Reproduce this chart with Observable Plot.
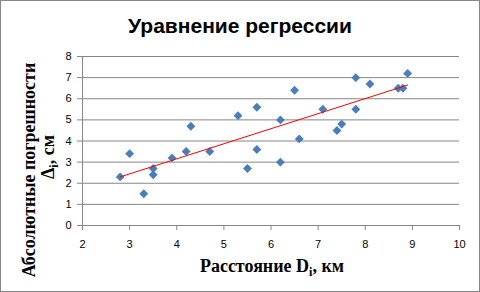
<!DOCTYPE html>
<html>
<head>
<meta charset="utf-8">
<script src="https://cdn.jsdelivr.net/npm/d3@7"></script>
<script src="https://cdn.jsdelivr.net/npm/@observablehq/plot@0.6"></script>
<style>
  html, body { margin: 0; padding: 0; background: #fff; }
  #chart { position: relative; width: 480px; height: 292px; overflow: hidden; }
  #chart svg { position: absolute; left: 0; top: 0; }
</style>
</head>
<body>
<div id="chart"></div>
<script>
// Data
const distanceKm = [2.8, 3.0, 3.3, 3.5, 3.5, 3.9, 4.2, 4.3, 4.7, 5.3, 5.5, 5.7, 5.7,
                    6.2, 6.2, 6.5, 6.6, 7.1, 7.4, 7.5, 7.8, 7.8, 8.1, 8.7, 8.8, 8.9];
const errorCm    = [2.3, 3.4, 1.5, 2.7, 2.4, 3.2, 3.5, 4.7, 3.5, 5.2, 2.7, 5.6, 3.6,
                    5.0, 3.0, 6.4, 4.1, 5.5, 4.5, 4.8, 7.0, 5.5, 6.7, 6.5, 6.5, 7.2];
const xTicks = [2, 3, 4, 5, 6, 7, 8, 9, 10];
const yTicks = [0, 1, 2, 3, 4, 5, 6, 7, 8];
const titleText = "Уравнение регрессии";
const xLabelMain = "Расстояние D";
const xLabelSub = "i";
const xLabelTail = ", км";
const yLabelLine1 = "Абсолютные погрешности";
const yLabelMain2 = "Δ";
const yLabelSub2 = "i";
const yLabelTail2 = ", см";

const data = distanceKm.map((d, i) => ({x: d, y: errorCm[i]}));
const gridColor = "#868686";
const serif = "'Liberation Serif', 'Times New Roman', serif";

const plot = Plot.plot({
  width: 480,
  height: 292,
  marginLeft: 82,
  marginRight: 21,
  marginTop: 56,
  marginBottom: 67,
  style: {fontFamily: "'Liberation Sans', Arial, sans-serif", fontSize: "11px", color: "#000", background: "transparent", overflow: "visible"},
  x: {domain: [2, 10]},
  y: {domain: [0, 8]},
  marks: [
    Plot.gridY(yTicks, {stroke: gridColor, strokeOpacity: 1}),
    Plot.ruleX([2], {stroke: gridColor}),
    Plot.ruleY([0], {stroke: gridColor}),
    Plot.axisY(yTicks, {tickSize: 5, tickPadding: 6, stroke: gridColor, fill: "#000", label: null, tickFormat: d => String(d)}),
    Plot.axisX(xTicks, {tickSize: 5, tickPadding: 10, stroke: gridColor, fill: "#000", label: null, tickFormat: d => String(d)}),
    Plot.dot(data, {x: "x", y: "y", symbol: "diamond2", r: 4, fill: "#4A7EBB", stroke: "none"}),
    Plot.linearRegressionY(data, {x: "x", y: "y", stroke: "#FF0000", strokeWidth: 1, ci: 0})
  ]
});

document.getElementById("chart").appendChild(plot);
const svg = d3.select(plot);

// Outer border
svg.append("rect")
  .attr("x", 0.5).attr("y", 0.5).attr("width", 479).attr("height", 291)
  .attr("fill", "none").attr("stroke", gridColor);

// Title
svg.append("text")
  .attr("x", 240).attr("y", 33)
  .attr("text-anchor", "middle")
  .attr("font-family", "'Liberation Sans', Arial, sans-serif")
  .attr("font-weight", "bold").attr("font-size", 21)
  .attr("fill", "#000")
  .text(titleText);

// X label
const xl = svg.append("text")
  .attr("x", 272).attr("y", 272)
  .attr("text-anchor", "middle")
  .attr("font-family", serif)
  .attr("font-weight", "bold").attr("font-size", 18)
  .attr("fill", "#000");
xl.append("tspan").text(xLabelMain);
xl.append("tspan").attr("font-size", 12).attr("dy", 4).text(xLabelSub);
xl.append("tspan").attr("dy", -4).text(xLabelTail);

// Y label (two lines, rotated)
svg.append("g").attr("transform", "translate(35,170) rotate(-90)")
  .append("text")
  .attr("x", 0).attr("y", 0)
  .attr("text-anchor", "middle")
  .attr("font-family", serif)
  .attr("font-weight", "bold").attr("font-size", 18)
  .attr("fill", "#000")
  .text(yLabelLine1);
const yl2 = svg.append("g").attr("transform", "translate(54,157) rotate(-90)")
  .append("text")
  .attr("x", 0).attr("y", 0)
  .attr("text-anchor", "middle")
  .attr("font-family", serif)
  .attr("font-weight", "bold").attr("font-size", 18)
  .attr("fill", "#000");
yl2.append("tspan").text(yLabelMain2);
yl2.append("tspan").attr("font-size", 12).attr("dy", 4).text(yLabelSub2);
yl2.append("tspan").attr("dy", -4).text(yLabelTail2);
</script>
</body>
</html>
